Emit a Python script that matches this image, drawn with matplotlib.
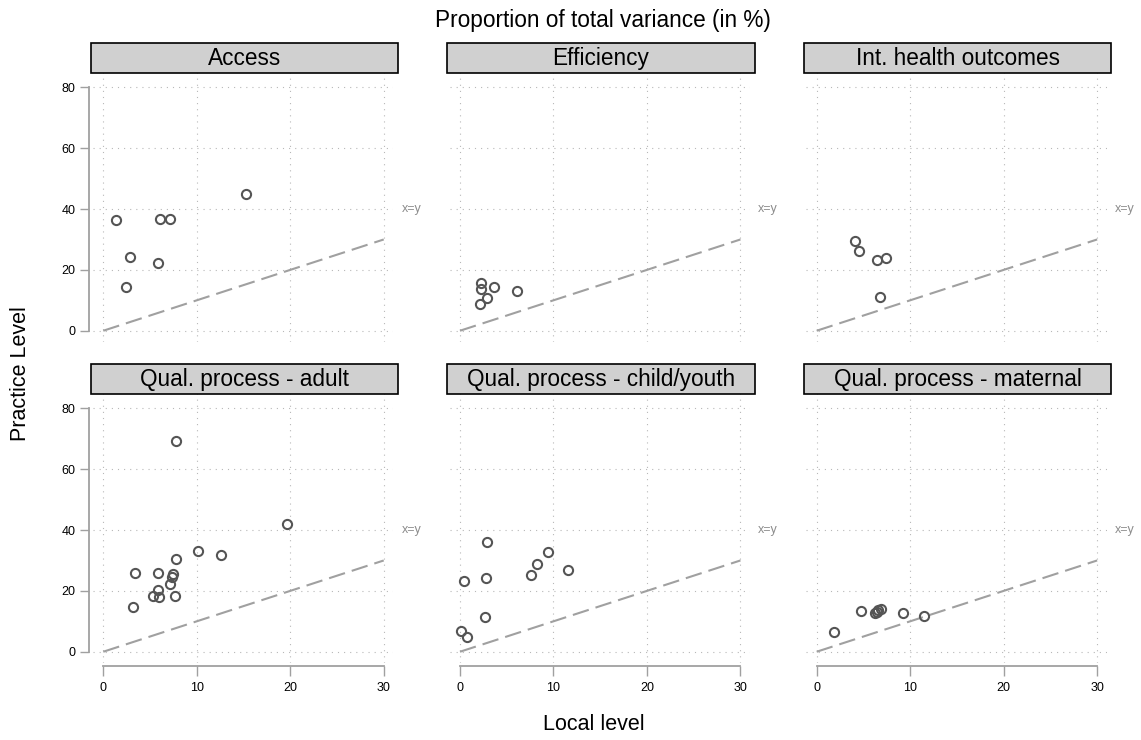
import matplotlib
matplotlib.use("Agg")
import matplotlib.pyplot as plt
from matplotlib.patches import Rectangle

plt.rcParams['font.family'] = ['Liberation Sans', 'DejaVu Sans']

panels = ["Access", "Efficiency", "Int. health outcomes",
          "Qual. process - adult", "Qual. process - child/youth", "Qual. process - maternal"]

access_x = [1.4, 2.4, 2.9, 5.8, 6.1, 7.1, 15.3]
access_y = [36.3, 14.5, 24.2, 22.1, 36.7, 36.7, 44.8]

efficiency_x = [2.2, 2.3, 3.6, 6.1, 2.9, 2.1]
efficiency_y = [15.6, 13.6, 14.5, 13.2, 10.6, 8.7]

health_x = [4.1, 4.5, 6.5, 7.4, 6.8]
health_y = [29.4, 26.1, 23.3, 23.9, 11.0]

adult_x = [7.8, 19.6, 10.1, 12.6, 7.8, 3.4, 5.8, 7.5, 7.4, 7.1, 5.8, 5.3, 6.0, 7.7, 3.2]
adult_y = [69.3, 42.0, 33.2, 31.9, 30.6, 26.0, 26.0, 25.7, 24.4, 22.2, 20.2, 18.4, 18.0, 18.2, 14.8]

child_x = [2.9, 9.4, 8.2, 11.6, 7.6, 2.8, 0.4, 2.7, 0.1, 0.8]
child_y = [36.1, 32.9, 28.9, 26.8, 25.2, 24.2, 23.2, 11.4, 6.9, 4.9]

maternal_x = [1.9, 4.7, 6.2, 6.4, 6.6, 6.9, 9.2, 11.5]
maternal_y = [6.6, 13.5, 12.6, 13.2, 13.8, 14.2, 12.8, 11.7]

series = [(access_x, access_y), (efficiency_x, efficiency_y), (health_x, health_y),
          (adult_x, adult_y), (child_x, child_y), (maternal_x, maternal_y)]

diag_x = [0, 30]
diag_y = [0, 30]
xticks = [0, 10, 20, 30]
yticks = [0, 20, 40, 60, 80]

W, H = 1141, 740
fig = plt.figure(figsize=(W / 100, H / 100), dpi=100)

col_left = [93.0, 449.7, 806.4]
ax_w = 300.1
row_top = [72.1, 393.1]
ax_h = 270.2

for i, name in enumerate(panels):
    r, c = divmod(i, 3)
    l = col_left[c]
    t = row_top[r]
    ax = fig.add_axes([l / W, 1 - (t + ax_h) / H, ax_w / W, ax_h / H])
    ax.set_xlim(-1.1, 31.0)
    ax.set_ylim(-3.8, 85)
    ax.set_xticks(xticks)
    ax.set_yticks(yticks)
    ax.grid(True, color='#b8b8b8', linestyle=(0, (1, 4.5)), linewidth=0.8)
    ax.set_axisbelow(True)
    for s in ['top', 'right']:
        ax.spines[s].set_visible(False)
    # y axis
    if c == 0:
        ax.spines['left'].set_position(('outward', 3))
        ax.spines['left'].set_bounds(0, 80)
        ax.spines['left'].set_color('#a0a0a0')
        ax.spines['left'].set_linewidth(1.3)
        ax.tick_params(axis='y', length=6.5, width=1.0, color='#a0a0a0',
                       labelsize=9, pad=3, labelcolor='black')
    else:
        ax.spines['left'].set_visible(False)
        ax.tick_params(axis='y', length=0, labelleft=False)
    # x axis
    if r == 1:
        ax.spines['bottom'].set_position(('outward', 2))
        ax.spines['bottom'].set_bounds(0, 30)
        ax.spines['bottom'].set_color('#a0a0a0')
        ax.spines['bottom'].set_linewidth(1.3)
        ax.tick_params(axis='x', length=7.2, width=1.0, color='#a0a0a0',
                       labelsize=9, pad=4, labelcolor='black')
    else:
        ax.spines['bottom'].set_visible(False)
        ax.tick_params(axis='x', length=0, labelbottom=False)

    ax.plot(diag_x, diag_y, color='#a0a0a0', lw=1.5, linestyle=(0, (8, 3.4)), zorder=2)
    xs, ys = series[i]
    ax.plot(xs, ys, linestyle='none', marker='o', markersize=6.6,
            markerfacecolor='none', markeredgecolor='#555555', markeredgewidth=1.5,
            zorder=3, clip_on=False)
    ax.annotate('x=y', xy=(1.0, 40), xycoords=('axes fraction', 'data'),
                xytext=(6, 0), textcoords='offset points', ha='left', va='center',
                fontsize=9, color='#8c8c8c', annotation_clip=False)

    # strip
    sl = l - 2.5
    sw = 307.5
    st = [43.3, 364.0][r]
    sh = 30.0
    fig.patches.append(Rectangle((sl / W, 1 - (st + sh) / H), sw / W, sh / H,
                                 transform=fig.transFigure, facecolor='#d0d0d0',
                                 edgecolor='black', linewidth=1.2, zorder=1))
    fig.text((sl + sw / 2) / W, 1 - (st + sh / 2 + 0.5) / H, name, ha='center', va='center',
             fontsize=16.3, color='black')

fig.text(603 / W, 1 - 20 / H, 'Proportion of total variance (in %)', ha='center', va='center',
         fontsize=16.3)
fig.text(594 / W, 1 - 725 / H, 'Local level', ha='center', va='center', fontsize=15.5)
fig.text(21 / W, 1 - 374 / H, 'Practice Level', ha='center', va='center', rotation=90,
         fontsize=15.5)

fig.savefig('out.png', dpi=100, facecolor='white')
